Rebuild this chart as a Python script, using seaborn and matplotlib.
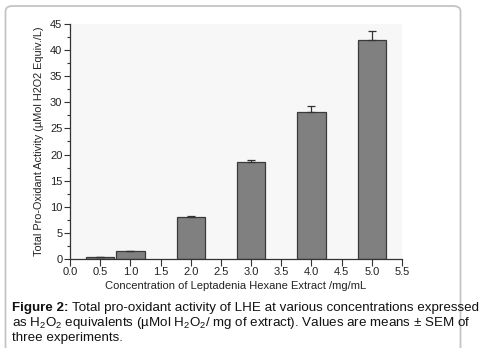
import matplotlib
matplotlib.use("Agg")
import matplotlib.pyplot as plt
from matplotlib.patches import FancyBboxPatch
import seaborn as sns
import pandas as pd
import numpy as np

concentrations = [0.5, 1.0, 2.0, 3.0, 4.0, 5.0]
activity = [0.35, 1.5, 8.0, 18.6, 28.1, 41.9]
sem = [0.1, 0.1, 0.2, 0.4, 1.2, 1.7]
xticks = [0.0, 0.5, 1.0, 1.5, 2.0, 2.5, 3.0, 3.5, 4.0, 4.5, 5.0, 5.5]
yticks = [0, 5, 10, 15, 20, 25, 30, 35, 40, 45]

sns.set_theme(style="ticks")
plt.rcParams['font.family'] = ['Liberation Sans', 'DejaVu Sans']
plt.rcParams['mathtext.fontset'] = 'custom'
plt.rcParams['mathtext.rm'] = 'Liberation Sans'
plt.rcParams['mathtext.it'] = 'Liberation Sans:italic'
plt.rcParams['mathtext.bf'] = 'Liberation Sans:bold'

df = pd.DataFrame({"conc": concentrations, "act": activity, "sem": sem})

fig = plt.figure(figsize=(4.89, 3.48), dpi=100)
fig.patch.set_facecolor("white")

# card border
card = FancyBboxPatch((5.5 / 489, -20 / 348), 455 / 489, (348 - 6 + 20) / 348,
                      boxstyle="round,pad=0,rounding_size=0.015",
                      transform=fig.transFigure, facecolor="none",
                      edgecolor="#c4c4c4", linewidth=1.3, zorder=-1)
fig.patches.append(card)

ax = fig.add_axes([70 / 489, 1 - 259 / 348, 332 / 489, 235 / 348])
ax.set_facecolor("#f7f7f7")

sns.barplot(data=df, x="conc", y="act", native_scale=True, width=0.94,
            color="#808080", saturation=1, edgecolor="#3a3a3a", linewidth=0.9,
            errorbar=None, ax=ax, zorder=2)
ax.errorbar(df["conc"], df["act"], yerr=[np.zeros(len(df)), df["sem"]],
            fmt="none", ecolor="#333333", elinewidth=0.9, capsize=3,
            capthick=0.9, zorder=3)

ax.set_xlim(0.0, 5.5)
ax.set_ylim(0, 45)
ax.set_xticks(xticks)
ax.set_xticklabels([f"{t:.1f}" for t in xticks])
ax.set_yticks(yticks)
ax.set_yticks(np.arange(2.5, 45, 5), minor=True)
ax.tick_params(axis="both", which="major", labelsize=8, direction="out",
               length=4, width=0.8, color="#333333", pad=1.5,
               labelcolor="#222222")
ax.tick_params(axis="y", which="minor", direction="out", length=2.5,
               width=0.8, color="#333333")
ax.tick_params(axis="x", which="major", length=5, pad=0.5)
for s in ["top", "right"]:
    ax.spines[s].set_visible(False)
for s in ["left", "bottom"]:
    ax.spines[s].set_color("#333333")
    ax.spines[s].set_linewidth(0.9)

ax.set_xlabel("Concentration of Leptadenia Hexane Extract /mg/mL",
              fontsize=8, labelpad=3, color="#222222")
ax.set_ylabel("Total Pro-Oxidant Activity (\u00b5Mol H2O2 Equiv./L)",
              fontsize=7.8, labelpad=4, color="#222222")

fs = 9.6
cap_kw = dict(fontsize=fs, ha="left", va="baseline", color="#111111",
              transform=fig.transFigure)
bold = fig.text(12 / 489, 1 - 311 / 348, "Figure 2:", fontweight="bold", **cap_kw)
fig.canvas.draw()
bb = bold.get_window_extent()
x_after = (bb.x1 + 3) / fig.bbox.width
fig.text(x_after, 1 - 311 / 348,
         "Total pro-oxidant activity of LHE at various concentrations expressed",
         **cap_kw)
fig.text(12 / 489, 1 - 326 / 348,
         "as H$_2$O$_2$ equivalents (\u00b5Mol H$_2$O$_2$/ mg of extract). Values are means \u00b1 SEM of",
         **cap_kw)
fig.text(12 / 489, 1 - 341 / 348, "three experiments.", **cap_kw)

fig.savefig("out.png", dpi=100, facecolor="white")
